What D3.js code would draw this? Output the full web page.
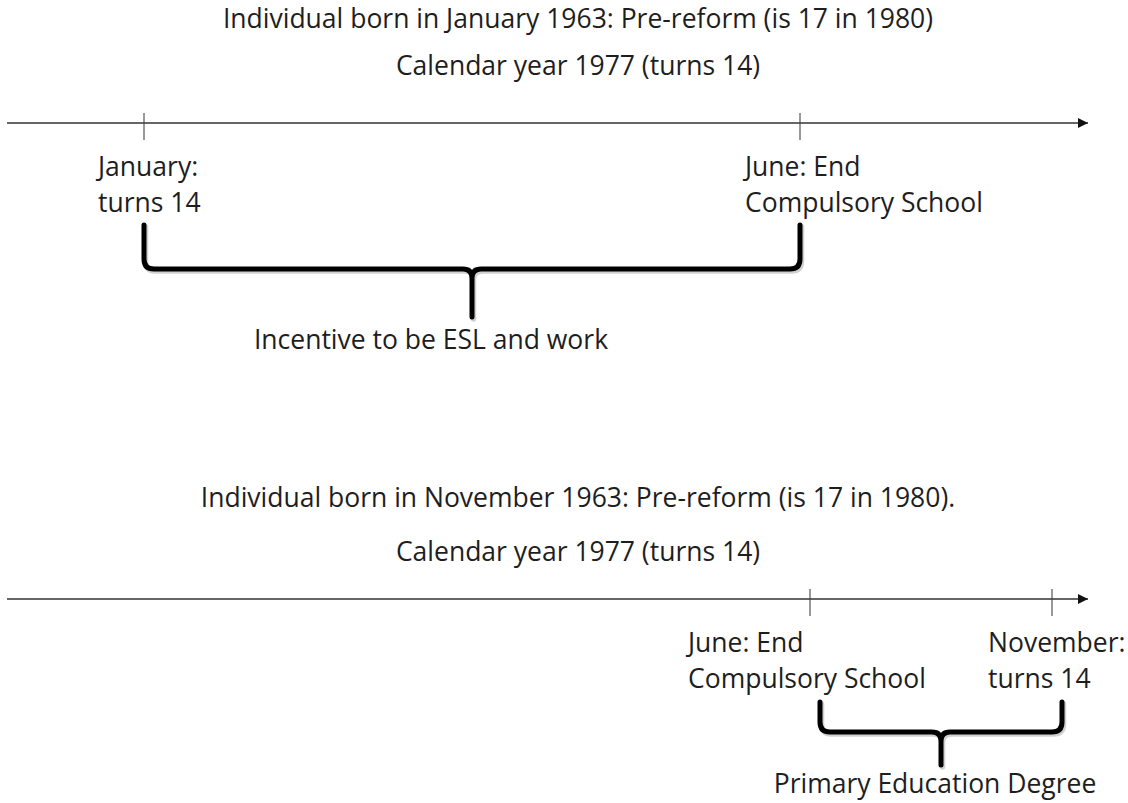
<!DOCTYPE html>
<html>
<head>
<meta charset="utf-8">
<script src="https://cdn.jsdelivr.net/npm/d3@7"></script>
<style>
  html, body { margin: 0; padding: 0; background: #fff; }
  text { font-family: "Open Sans", "Noto Sans", sans-serif; fill: #1e1e1e; }
</style>
</head>
<body>
<svg id="chart" width="1128" height="803"></svg>
<script>
// ============================================================
// Data
// ------------------------------------------------------------
var panelTitles = [
  "Individual born in January 1963: Pre-reform (is 17 in 1980)",
  "Individual born in November 1963: Pre-reform (is 17 in 1980)."
];
var panelSubtitles = [
  "Calendar year 1977 (turns 14)",
  "Calendar year 1977 (turns 14)"
];
// month of each marked event (1 = January)
var eventMonths = [
  [1, 6],
  [6, 11]
];
var eventLabels = [
  [["January:", "turns 14"], ["June: End", "Compulsory School"]],
  [["June: End", "Compulsory School"], ["November:", "turns 14"]]
];
var braceLabels = [
  "Incentive to be ESL and work",
  "Primary Education Degree"
];

// ============================================================
// Layout (schematic, not data)
// ------------------------------------------------------------
var fontSize = 26.5;
var layout = [
  { axisY: 123, titleY: 28, subY: 75, monthRange: [144, 800], labelDx: [-46, -55],
    braceDx: 0, braceTop: 102, braceMid: 146, braceTip: 194, braceLabelDx: -41, braceLabelY: 226 },
  { axisY: 599, titleY: 507, subY: 561, monthRange: [810, 1052], labelDx: [-122, -64],
    braceDx: 10, braceTop: 103, braceMid: 133, braceTip: 166, braceLabelDx: -6, braceLabelY: 194 }
];
var axisStart = 7, axisEnd = 1090, centerX = 578;

var svg = d3.select("#chart");

function bracePath(x1, x2, yTop, yMid, yTip) {
  var r = 10, c = 9, cx = (x1 + x2) / 2;
  var p = d3.path();
  p.moveTo(x1, yTop);
  p.lineTo(x1, yMid - r);
  p.quadraticCurveTo(x1, yMid, x1 + r, yMid);
  p.lineTo(cx - c, yMid);
  p.quadraticCurveTo(cx, yMid, cx, yMid + c);
  p.lineTo(cx, yTip);
  p.moveTo(cx, yMid + c);
  p.quadraticCurveTo(cx, yMid, cx + c, yMid);
  p.lineTo(x2 - r, yMid);
  p.quadraticCurveTo(x2, yMid, x2, yMid - r);
  p.lineTo(x2, yTop);
  return p.toString();
}

// arrow head marker
svg.append("defs").append("marker")
  .attr("id", "arrow")
  .attr("viewBox", "0 0 10 10")
  .attr("refX", 10).attr("refY", 5)
  .attr("markerWidth", 11).attr("markerHeight", 10)
  .attr("markerUnits", "userSpaceOnUse")
  .attr("orient", "auto")
  .append("path")
  .attr("d", "M0,0 L10,5 L0,10 Z")
  .attr("fill", "#111");

// ============================================================
// Panels
// ------------------------------------------------------------
panelTitles.forEach(function(title, i) {
  var L = layout[i];
  var g = svg.append("g").attr("class", "panel panel-" + i);

  var x = d3.scaleLinear()
    .domain(d3.extent(eventMonths[i]))
    .range(L.monthRange);

  g.append("text")
    .attr("x", centerX).attr("y", L.titleY)
    .attr("text-anchor", "middle")
    .style("font-size", fontSize + "px")
    .text(title);

  g.append("text")
    .attr("x", centerX).attr("y", L.subY)
    .attr("text-anchor", "middle")
    .style("font-size", fontSize + "px")
    .text(panelSubtitles[i]);

  // timeline
  g.append("line")
    .attr("x1", axisStart).attr("x2", axisEnd - 2)
    .attr("y1", L.axisY).attr("y2", L.axisY)
    .attr("stroke", "#333").attr("stroke-width", 1.3)
    .attr("marker-end", "url(#arrow)");

  var ev = g.selectAll(".event")
    .data(eventMonths[i])
    .enter().append("g")
    .attr("class", "event");

  ev.append("line")
    .attr("x1", function(d) { return x(d); })
    .attr("x2", function(d) { return x(d); })
    .attr("y1", L.axisY - 10)
    .attr("y2", L.axisY + 17)
    .attr("stroke", "#444").attr("stroke-width", 1.1);

  ev.each(function(d, j) {
    var t = d3.select(this).append("text")
      .style("font-size", fontSize + "px");
    eventLabels[i][j].forEach(function(line, k) {
      t.append("tspan")
        .attr("x", x(d) + L.labelDx[j])
        .attr("y", L.axisY + 53 + k * 35.5)
        .text(line);
    });
  });

  // brace
  var bx1 = x(eventMonths[i][0]) + L.braceDx;
  var bx2 = x(eventMonths[i][1]) + L.braceDx;
  var d = bracePath(bx1, bx2, L.axisY + L.braceTop, L.axisY + L.braceMid, L.axisY + L.braceTip);

  g.append("path")
    .attr("d", d)
    .attr("transform", "translate(1.5,2)")
    .attr("fill", "none")
    .attr("stroke", "#999").attr("stroke-opacity", 0.45)
    .attr("stroke-width", 5.5)
    .attr("stroke-linecap", "round");

  g.append("path")
    .attr("d", d)
    .attr("fill", "none")
    .attr("stroke", "#000")
    .attr("stroke-width", 5)
    .attr("stroke-linecap", "round")
    .attr("stroke-linejoin", "round");

  g.append("text")
    .attr("x", (bx1 + bx2) / 2 + L.braceLabelDx)
    .attr("y", L.axisY + L.braceLabelY)
    .attr("text-anchor", "middle")
    .style("font-size", fontSize + "px")
    .text(braceLabels[i]);
});
</script>
</body>
</html>
